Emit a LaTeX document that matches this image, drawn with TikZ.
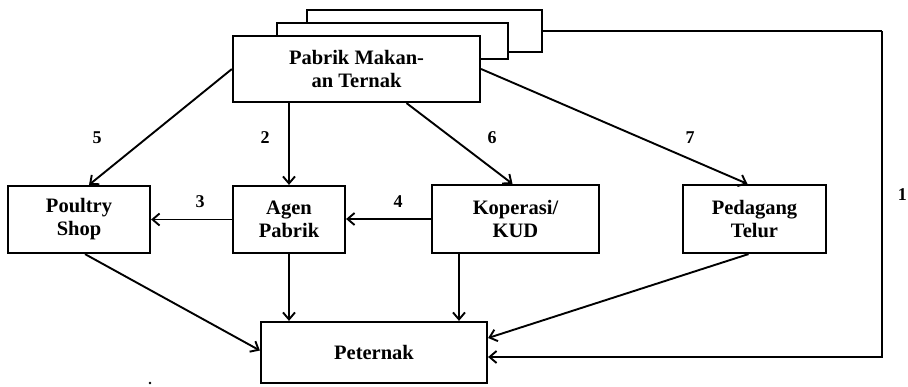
\documentclass[tikz,border=0pt]{standalone}
\usepackage{fontspec}
\setmainfont{Liberation Serif}
\usetikzlibrary{arrows.meta,calc}
\begin{document}
\begin{tikzpicture}[x=1pt,y=-1pt,
  box/.style={draw,line width=2.2pt,fill=white,inner sep=0pt,align=center,
    font=\fontsize{20.5}{23}\selectfont\bfseries},
  conn/.style={line width=1.9pt,-{Straight Barb[length=7pt,width=12pt,line width=1.9pt]}},
  plain/.style={line width=1.9pt},
  lbl/.style={font=\fontsize{18}{20}\selectfont\bfseries,inner sep=0pt}]
\useasboundingbox (0,0) rectangle (908,386);
% stacked boxes behind
\node[box,minimum width=235pt,minimum height=42pt] (back3) at (424.5,31) {};
\node[box,minimum width=231pt,minimum height=36pt] (back2) at (392.5,41) {};
\node[box,minimum width=247pt,minimum height=66pt] (pabrik) at (356.5,69) {Pabrik Makan-\\an Ternak};
\node[box,minimum width=142pt,minimum height=67pt] (poultry) at (79,219.5) {Poultry\\Shop};
\node[box,minimum width=112pt,minimum height=67pt] (agen) at (289,219.5) {Agen\\Pabrik};
\node[box,minimum width=167pt,minimum height=68pt] (kop) at (515.5,219) {Koperasi/\\KUD};
\node[box,minimum width=143pt,minimum height=68pt] (ped) at (754.5,219) {Pedagang\\Telur};
\node[box,minimum width=226pt,minimum height=61pt] (pet) at (374,352.5) {Peternak};
\coordinate (corner) at (882,31);
% connectors
\draw[conn] (pabrik.west) -- ($(poultry.north)+(10,0)$);
\draw[conn] (agen.north |- pabrik.south) -- (agen.north);
\draw[conn] ($(pabrik.south)+(50,0)$) -- ($(kop.north)+(-3,0)$);
\draw[conn] (pabrik.east) -- ($(ped.north)+(-7,0)$);
\draw[conn] (agen.west) -- (poultry.east);
\draw[conn] (kop.west) -- (agen.east |- kop.west);
\draw[conn] ($(poultry.south)+(6,0)$) -- ($(pet.west)+(0,-2)$);
\draw[conn] (agen.south) -- (agen.south |- pet.north);
\coordinate (ks) at ($(kop.south)+(-56.5,0)$);
\draw[conn] (ks) -- (ks |- pet.north);
\draw[conn] ($(ped.south)+(-6,0)$) -- ($(pet.east)+(0,-14.5)$);
\draw[plain] (back3.east) -- (corner);
\draw[conn] (corner) |- ($(pet.east)+(0,4.5)$);
% labels
\node[lbl] (l5) at (97,138) {5};
\node[lbl] (l2) at (265,138) {2};
\node[lbl] (l6) at (492,138) {6};
\node[lbl] (l7) at (690,138) {7};
\node[lbl] (l3) at (200,202) {3};
\node[lbl] (l4) at (398,202) {4};
\node[lbl,anchor=east] (l1) at (907,195) {1};
\fill (150,383) circle (1.3pt);
\end{tikzpicture}
\end{document}
